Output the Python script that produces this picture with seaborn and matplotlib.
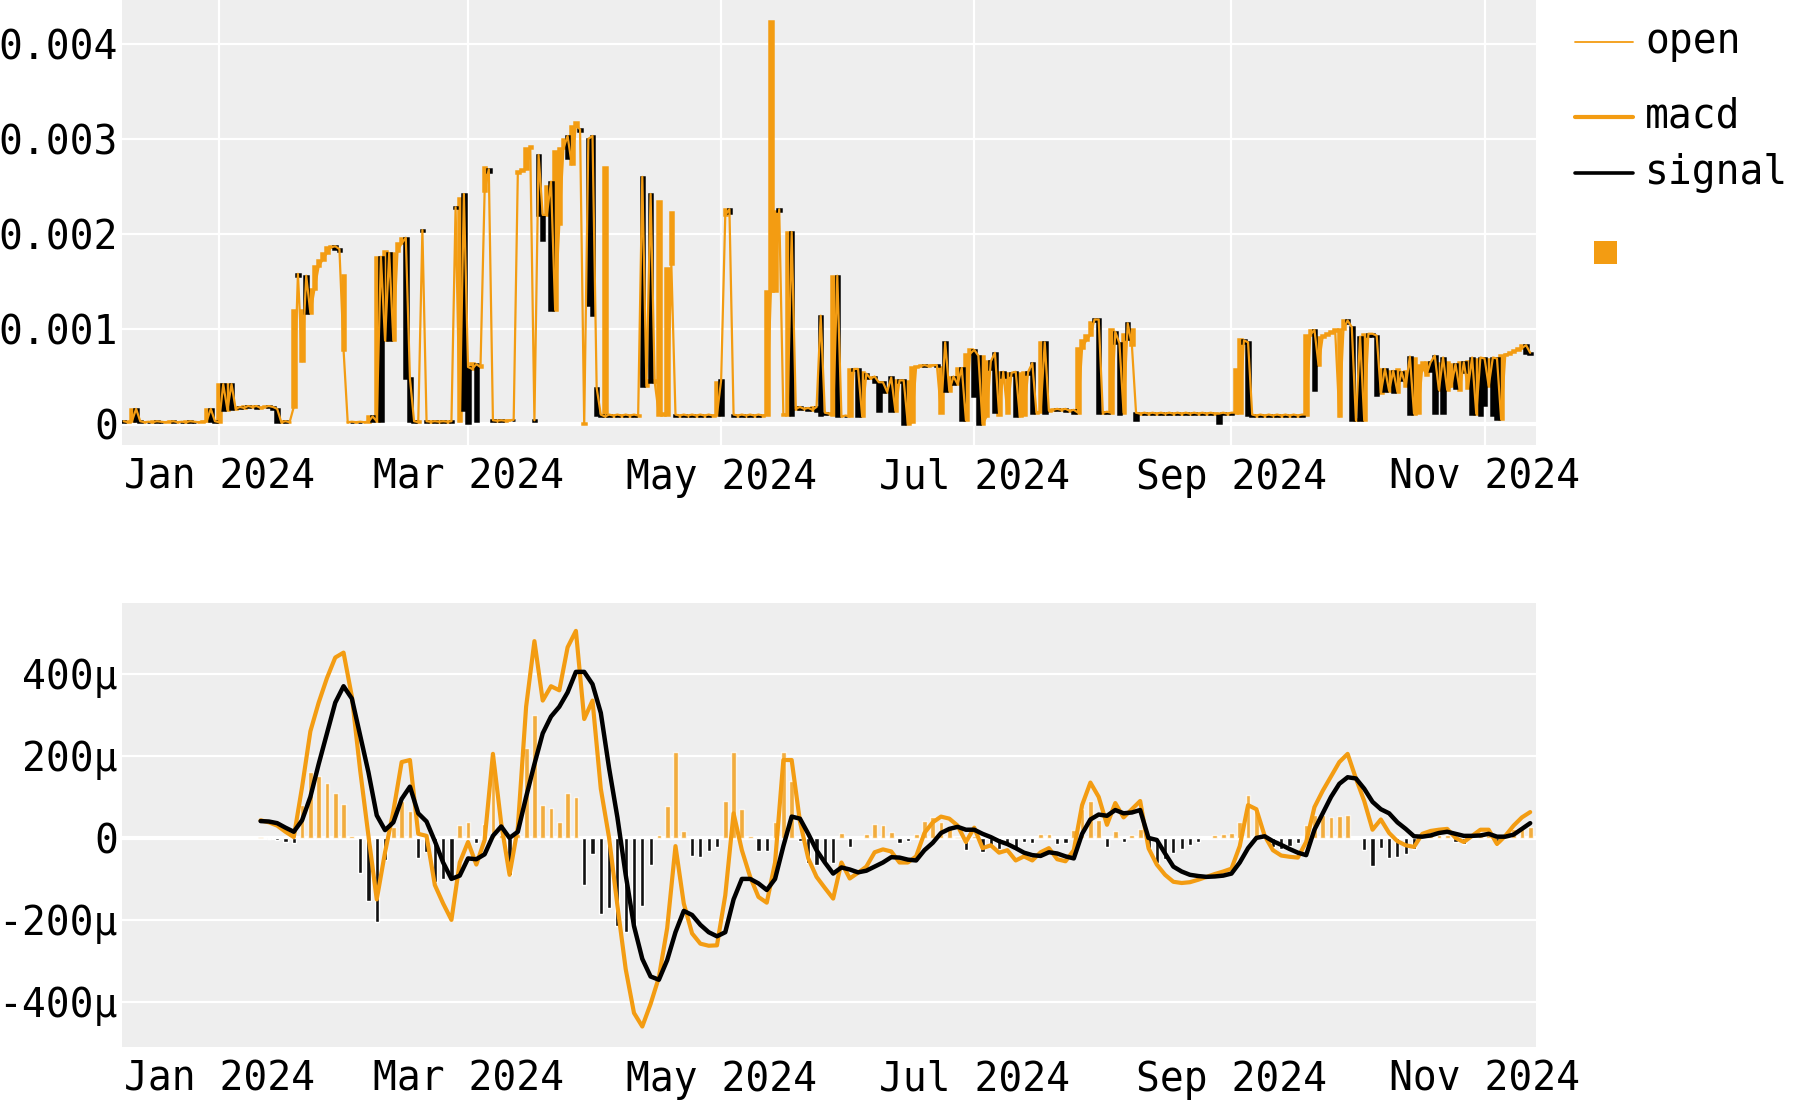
import numpy as np
import pandas as pd
import matplotlib
matplotlib.use("Agg")
import matplotlib.pyplot as plt
import matplotlib.dates as mdates
from matplotlib.lines import Line2D
from matplotlib.patches import Rectangle
from matplotlib.ticker import FuncFormatter
import seaborn as sns

# ---------------- data ----------------
# daily candles from 2023-12-09, values in units of 1e-4
open_e4 = [
    0.3, 0.2, 0.3, 1.6, 0.3, 0.2, 0.25, 0.2, 0.3, 0.25,
    0.2, 0.25, 0.3, 0.2, 0.25, 0.2, 0.3, 0.25, 0.2, 0.25,
    0.3, 1.6, 0.3, 0.2, 4.2, 1.5, 4.2, 1.6, 1.8, 1.7,
    1.9, 1.8, 1.9, 1.7, 1.8, 1.9, 1.8, 1.6, 0.2, 0.3,
    0.2, 1.8, 15.8, 6.6, 15.6, 11.7, 14.2, 16.6, 17.3, 18.0,
    18.6, 18.7, 18.4, 7.8, 0.2, 0.25, 0.2, 0.25, 0.2, 0.25,
    0.8, 0.3, 17.6, 8.8, 18.0, 8.8, 18.2, 19.0, 19.6, 4.8,
    0.3, 0.2, 20.4, 0.3, 0.25, 0.3, 0.25, 0.3, 0.25, 0.3,
    22.8, 0.3, 24.2, 6.0, 5.8, 6.3, 6.0, 24.5, 26.8, 0.4,
    0.35, 0.4, 0.35, 0.4, 0.45, 26.4, 26.6, 26.8, 29.0, 0.4,
    28.3, 22.0, 22.0, 25.5, 12.0, 21.0, 29.0, 30.3, 27.3, 31.4,
    31.0, 0.0, 30.0, 30.3, 3.8, 1.0, 0.8, 1.0, 0.9, 1.0,
    0.9, 1.0, 0.9, 1.0, 0.9, 26.0, 4.0, 24.2, 4.4, 1.0,
    1.0, 1.0, 16.8, 1.0, 0.9, 1.0, 0.9, 1.0, 0.9, 1.0,
    0.9, 1.0, 0.9, 1.0, 4.6, 22.0, 22.6, 1.0, 0.9, 1.0,
    0.9, 1.0, 0.9, 1.0, 0.9, 1.0, 14.0, 14.0, 22.6, 1.0,
    1.0, 20.2, 1.6, 1.8, 1.6, 1.7, 1.5, 1.8, 11.4, 1.2,
    1.1, 1.0, 15.6, 0.8, 0.9, 0.8, 5.8, 5.8, 0.8, 5.3,
    4.8, 5.0, 4.4, 4.4, 3.4, 4.9, 1.4, 4.6, 4.6, 0.0,
    0.2, 6.0, 6.1, 6.2, 6.1, 6.2, 6.2, 1.2, 8.6, 3.5,
    5.0, 4.2, 5.9, 0.4, 7.4, 7.8, 7.2, 0.0, 0.8, 6.6,
    7.5, 1.0, 5.5, 1.2, 5.4, 5.5, 0.8, 1.0, 5.5, 6.4,
    1.2, 1.3, 8.6, 1.4, 1.5, 1.6, 1.5, 1.6, 1.4, 1.5,
    1.2, 8.0, 8.8, 9.4, 11.0, 11.0, 1.2, 1.3, 1.2, 9.7,
    8.5, 1.2, 10.6, 8.3, 1.2, 1.1, 1.2, 1.1, 1.2, 1.1,
    1.2, 1.1, 1.2, 1.1, 1.2, 1.1, 1.2, 1.1, 1.2, 1.1,
    1.2, 1.1, 1.2, 1.1, 1.1, 1.2, 1.1, 1.2, 1.2, 1.2,
    8.8, 8.6, 1.0, 0.9, 1.0, 0.9, 1.0, 0.9, 1.0, 0.9,
    1.0, 0.9, 1.0, 0.9, 1.0, 1.0, 9.4, 9.9, 6.2, 9.2,
    9.4, 9.6, 9.8, 0.8, 10.0, 10.9, 10.2, 0.4, 9.2, 0.4,
    9.5, 9.5, 9.3, 3.3, 5.8, 3.5, 5.6, 3.4, 5.5, 4.0,
    7.1, 1.1, 1.2, 6.0, 5.2, 6.5, 7.2, 3.6, 7.0, 3.6,
    4.0, 6.3, 3.6, 6.5, 3.8, 7.0, 1.1, 7.0, 6.9, 4.0,
    7.0, 6.9, 0.5, 7.3, 7.4, 7.6, 7.8, 8.0, 8.3, 7.5,
]
close_e4 = [
    0.2, 0.3, 1.6, 0.3, 0.2, 0.25, 0.2, 0.3, 0.25, 0.2,
    0.25, 0.3, 0.2, 0.25, 0.2, 0.3, 0.25, 0.2, 0.25, 0.3,
    1.6, 0.3, 0.2, 4.2, 1.5, 4.2, 1.6, 1.8, 1.7, 1.9,
    1.8, 1.9, 1.7, 1.8, 1.9, 1.8, 1.6, 0.2, 0.3, 0.2,
    0.25, 12.0, 15.6, 12.0, 11.7, 14.2, 16.6, 17.3, 18.0, 18.6,
    18.7, 18.4, 18.2, 15.7, 0.25, 0.2, 0.25, 0.2, 0.25, 0.8,
    0.3, 17.6, 0.3, 18.2, 8.8, 18.0, 19.0, 19.6, 4.8, 0.3,
    0.2, 0.3, 20.3, 0.25, 0.3, 0.25, 0.3, 0.25, 0.3, 0.25,
    22.7, 23.8, 1.5, 0.1, 6.4, 0.3, 6.2, 27.0, 26.5, 0.35,
    0.4, 0.35, 0.4, 0.45, 0.4, 26.6, 26.8, 29.0, 29.2, 0.35,
    22.0, 19.4, 25.0, 12.0, 28.7, 29.0, 30.0, 28.0, 31.4, 31.8,
    30.8, 0.1, 12.5, 11.5, 1.0, 0.9, 27.0, 0.9, 1.0, 0.9,
    1.0, 0.9, 1.0, 0.9, 1.0, 4.0, 4.6, 4.4, 4.6, 23.5,
    1.2, 16.4, 22.3, 0.9, 1.0, 0.9, 1.0, 0.9, 1.0, 0.9,
    1.0, 0.9, 1.0, 4.4, 1.0, 22.6, 22.2, 0.9, 1.0, 0.9,
    1.0, 0.9, 1.0, 0.9, 1.0, 14.0, 42.4, 22.4, 22.4, 1.1,
    20.2, 1.0, 1.8, 1.6, 1.7, 1.5, 1.8, 1.4, 1.0, 1.1,
    1.2, 15.6, 0.8, 0.9, 0.8, 5.8, 5.7, 0.8, 5.5, 4.8,
    5.0, 4.4, 1.4, 3.4, 3.8, 1.4, 4.6, 4.4, 0.0, 4.5,
    6.0, 6.1, 6.2, 6.1, 6.2, 6.2, 6.1, 6.0, 3.5, 5.0,
    4.2, 5.9, 0.4, 7.4, 7.9, 3.0, 0.0, 7.2, 6.6, 5.8,
    1.3, 5.5, 5.0, 5.4, 5.2, 0.8, 5.4, 5.5, 5.3, 1.2,
    1.3, 8.6, 1.2, 1.5, 1.6, 1.5, 1.6, 1.4, 1.5, 1.2,
    8.0, 8.8, 9.4, 10.7, 10.8, 1.2, 1.3, 1.2, 10.0, 8.5,
    1.1, 9.5, 9.0, 10.0, 0.4, 1.2, 1.1, 1.2, 1.1, 1.2,
    1.1, 1.2, 1.1, 1.2, 1.1, 1.2, 1.1, 1.2, 1.1, 1.2,
    1.1, 1.2, 1.1, 1.2, 0.1, 1.1, 1.2, 1.1, 5.8, 9.0,
    8.5, 1.0, 0.9, 1.0, 0.9, 1.0, 0.9, 1.0, 0.9, 1.0,
    0.9, 1.0, 0.9, 1.0, 0.9, 9.4, 9.9, 3.6, 9.2, 9.4,
    9.6, 9.8, 10.0, 10.0, 10.9, 10.6, 0.4, 0.5, 0.4, 9.5,
    9.3, 9.3, 3.1, 5.8, 3.5, 5.6, 3.4, 5.8, 4.6, 5.6,
    1.1, 7.0, 6.2, 6.5, 6.5, 5.6, 1.2, 6.4, 1.2, 6.5,
    6.3, 3.8, 6.5, 5.5, 6.6, 1.1, 6.8, 1.0, 2.0, 6.8,
    1.0, 0.5, 7.3, 7.4, 7.6, 7.8, 8.0, 8.3, 7.5, 7.4,
]
candle_start = "2023-12-09"

# MACD / signal every 2 days from 2024-01-11, in units of 1e-6
macd_u = [
    43, 38, 30, 15, 2, 124, 260, 330, 390, 440,
    452, 345, 165, 5, -150, -35, 65, 185, 190, 10,
    5, -115, -160, -200, -60, -10, -65, -5, 205, 35,
    -90, 25, 320, 480, 335, 370, 360, 465, 505, 290,
    335, 120, 0, -165, -320, -427, -460, -405, -340, -220,
    -20, -160, -233, -258, -263, -262, -140, 60, -30, -95,
    -144, -158, -60, 190, 190, 40, -50, -95, -122, -148,
    -60, -99, -85, -70, -35, -28, -33, -60, -60, -45,
    12, 38, 52, 47, 30, -10, 25, -25, -18, -36,
    -30, -55, -45, -55, -35, -25, -52, -57, -30, 80,
    135, 100, 32, 85, 50, 70, 90, -25, -65, -90,
    -107, -110, -108, -102, -95, -88, -82, -75, -20, 80,
    70, 5, -30, -43, -46, -48, -10, 75, 115, 150,
    185, 205, 145, 90, 20, 45, 12, -8, -18, -22,
    10, 17, 20, 22, 0, -10, 5, 20, 20, -15,
    5, 30, 50, 63,
]
signal_u = [
    41, 40, 36, 25, 15, 43, 100, 180, 255, 330,
    370, 340, 250, 160, 55, 19, 38, 95, 125, 60,
    40, -8, -60, -100, -92, -50, -52, -40, 5, 28,
    0, 15, 100, 180, 255, 296, 320, 355, 405, 405,
    375, 305, 170, 50, -90, -215, -295, -338, -346, -298,
    -230, -178, -188, -212, -230, -240, -230, -150, -100, -100,
    -111, -127, -100, -20, 52, 47, 10, -30, -60, -87,
    -72, -77, -84, -80, -70, -60, -47, -48, -53, -55,
    -30, -12, 12, 22, 27, 20, 20, 10, 2, -8,
    -15, -25, -36, -42, -44, -35, -38, -45, -50, 10,
    45, 57, 54, 68, 60, 62, 68, 0, -5, -38,
    -70, -82, -90, -93, -95, -94, -92, -87, -60, -25,
    0, 4, -8, -17, -27, -36, -42, 20, 60, 100,
    132, 148, 145, 120, 88, 70, 60, 38, 22, 4,
    3, 6, 12, 15, 10, 5, 5, 6, 10, 3,
    3, 8, 22, 36,
]
macd_start = "2024-01-11"

top_yticks = [0, 0.001, 0.002, 0.003, 0.004]
bot_yticks = [-400e-6, -200e-6, 0, 200e-6, 400e-6]
legend_labels = ["open", "macd", "signal"]

# ---------------- style ----------------
ORANGE = "#F39C12"
BG = "#EEEEEE"
sns.set_theme(style="darkgrid", rc={
    "axes.facecolor": BG, "grid.color": "white", "grid.linewidth": 1.6,
    "figure.facecolor": "white", "axes.edgecolor": BG,
})
plt.rcParams["font.family"] = ["DejaVu Sans Mono", "DejaVu Sans"]
plt.rcParams["axes.unicode_minus"] = False
FS = 28.5

o = np.array(open_e4) * 1e-4
c = np.array(close_e4) * 1e-4
cdates = pd.date_range(candle_start, periods=len(o), freq="D")
m = np.array(macd_u) * 1e-6
s = np.array(signal_u) * 1e-6
mdates_ = pd.date_range(macd_start, periods=len(m), freq="2D")
hist = m - s

fig = plt.figure(figsize=(18, 11), dpi=100)
ax1 = fig.add_axes([122 / 1800, 1 - 445 / 1100, (1536 - 122) / 1800, 445 / 1100])
ax2 = fig.add_axes([122 / 1800, 1 - 1047 / 1100, (1536 - 122) / 1800, 444 / 1100])

# ---------------- top: candles + open ----------------
up = c >= o
h = np.maximum(np.abs(c - o), 1e-7)
b = np.minimum(o, c)
ax1.bar(cdates[up], h[up], bottom=b[up], width=0.85, color=ORANGE,
        edgecolor=ORANGE, linewidth=1.8, zorder=2)
ax1.bar(cdates[~up], h[~up], bottom=b[~up], width=0.85, color="black",
        edgecolor="black", linewidth=1.8, zorder=2)
sns.lineplot(x=cdates, y=o, ax=ax1, color=ORANGE, linewidth=1.6,
             estimator=None, zorder=3)

# ---------------- bottom: MACD ----------------
pos = hist >= 0
ax2.bar(mdates_[pos], hist[pos], width=1.15, color=ORANGE, alpha=0.8, zorder=2)
ax2.bar(mdates_[~pos], hist[~pos], width=1.0, color="#111111", zorder=2)
sns.lineplot(x=mdates_, y=m, ax=ax2, color=ORANGE, linewidth=3.0,
             estimator=None, zorder=3)
sns.lineplot(x=mdates_, y=s, ax=ax2, color="black", linewidth=3.2,
             estimator=None, zorder=4)

x0 = pd.Timestamp("2024-01-01") - pd.Timedelta(days=23.4)
x1 = pd.Timestamp("2024-01-01") + pd.Timedelta(days=317.4)
for ax in (ax1, ax2):
    ax.set_xlim(x0, x1)
    ax.xaxis.set_major_locator(mdates.MonthLocator(bymonth=[1, 3, 5, 7, 9, 11]))
    ax.xaxis.set_major_formatter(mdates.DateFormatter("%b %Y"))
    ax.tick_params(axis="both", labelsize=FS, length=0, colors="black")
    ax.tick_params(axis="x", pad=9)
    ax.tick_params(axis="y", pad=3)
    for sp in ax.spines.values():
        sp.set_visible(False)
    ax.set_xlabel("")
    ax.set_ylabel("")
    ax.set_axisbelow(True)
    ax.axhline(0, color="white", lw=3, zorder=1)
    if ax.get_legend() is not None:
        ax.get_legend().remove()

ax2.grid(axis="x", visible=False)

ax1.set_ylim(-0.00022, 0.00446)
ax1.set_yticks(top_yticks)
ax1.yaxis.set_major_formatter(FuncFormatter(
    lambda v, p: "0" if abs(v) < 1e-12 else f"{v:.3f}"))
ax2.set_ylim(-510e-6, 573e-6)
ax2.set_yticks(bot_yticks)
ax2.yaxis.set_major_formatter(FuncFormatter(
    lambda v, p: "0" if abs(v) < 1e-12 else f"{int(round(v * 1e6))}\u03bc"))

# ---------------- legend ----------------
lx0, lx1, tx = 1575 / 1800, 1633 / 1800, 1645 / 1800
specs = [(legend_labels[0], 42, ORANGE, 1.3),
         (legend_labels[1], 117, ORANGE, 3.0),
         (legend_labels[2], 173, "black", 2.6)]
for lab, ypx, col, lw in specs:
    yy = 1 - ypx / 1100
    fig.add_artist(Line2D([lx0, lx1], [yy, yy], transform=fig.transFigure,
                          color=col, lw=lw))
    fig.text(tx, yy, lab, va="center", ha="left", fontsize=FS, color="black")
fig.add_artist(Rectangle((1594 / 1800, 1 - 264 / 1100), 23 / 1800, 23 / 1100,
                         transform=fig.transFigure, color=ORANGE, lw=0))

fig.savefig("out.png", dpi=100)
